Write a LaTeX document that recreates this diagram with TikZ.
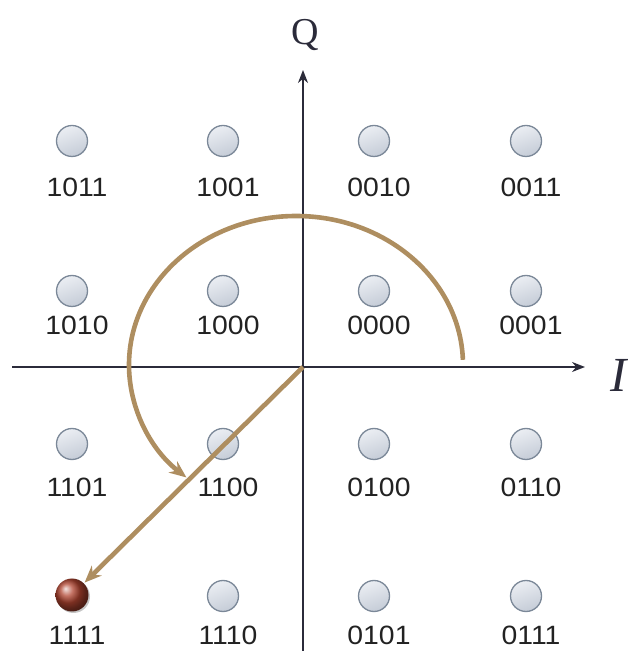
\documentclass[tikz,border=0pt]{standalone}
\usepackage{fontspec}
\setmainfont{Liberation Sans}
\newfontfamily\labfont[FakeStretch=1.07]{Liberation Sans}
\newfontfamily\serifQ{Liberation Serif}
\usetikzlibrary{arrows.meta,shadows}
\definecolor{axiscol}{HTML}{2B2B3A}
\definecolor{tan}{HTML}{AE8E60}
\definecolor{ptedge}{HTML}{7B8898}
\definecolor{pttop}{HTML}{EBEEF3}
\definecolor{ptbot}{HTML}{C5CCD7}
\definecolor{redball}{HTML}{B04430}
\definecolor{labcol}{HTML}{222222}
\begin{document}
\begin{tikzpicture}[x=1pt,y=1pt,
  axis/.style={draw=axiscol,line width=1.4pt,-{Stealth[length=13pt,width=10pt]}},
  pt/.style={circle,minimum size=31pt,inner sep=0pt,draw=ptedge,line width=1.3pt,
    top color=pttop,bottom color=ptbot,shading angle=20},
  reddot/.style={circle,minimum size=33pt,inner sep=0pt,shading=ball,ball color=redball,
    drop shadow={shadow xshift=1.5pt,shadow yshift=-1.5pt,opacity=0.45}},
  lab/.style={font=\labfont\fontsize{26.5}{30}\selectfont,text=labcol,inner sep=0pt,anchor=base},
  tanline/.style={draw=tan,line width=4.6pt,-{Stealth[length=17pt,width=14pt]}},
  axlab/.style={font=\serifQ\fontsize{38}{42}\selectfont,text=axiscol,inner sep=0pt}]
\useasboundingbox (0,0) rectangle (627,651);
% axes
\coordinate (xl) at (12,284);
\coordinate (xr) at (585,284);
\coordinate (yb) at (303,0);
\coordinate (yt) at (303,581);
\coordinate (O) at (303,284);
\draw[axis] (xl) -- (xr);
\draw[axis] (yb) -- (yt);
\node[axlab] (Qlab) at (305,616) {Q};
\node[axlab,font=\serifQ\itshape\fontsize{49}{52}\selectfont] (Ilab) at (619,276) {I};
% points
\foreach \code/\x/\y/\by in {
  1011/72/510/454, 1001/223/510/454, 0010/374/510/454, 0011/526/510/454,
  1010/72/360/316, 1000/223/360/316, 0000/374/360/316, 0001/526/360/316,
  1101/72/207/154, 1100/223/207/154, 0100/374/207/154, 0110/526/207/154,
  1110/223/55/6, 0101/374/55/6, 0111/526/55/6}{
  \node[pt] (p\code) at (\x,\y) {};
  \node[lab] (l\code) at (\x+5,\by) {\code};
}
\node[reddot] (p1111) at (72,56) {};
\node[lab] (l1111) at (77,6) {1111};
% rotation arc and vector
\coordinate (arcstart) at (462.9,291.2);
\draw[tanline] (arcstart) arc[start angle=2,end angle=229,x radius=167pt,y radius=149pt];
\draw[tanline,shorten >=1pt] (O) -- (p1111);
\end{tikzpicture}
\end{document}
